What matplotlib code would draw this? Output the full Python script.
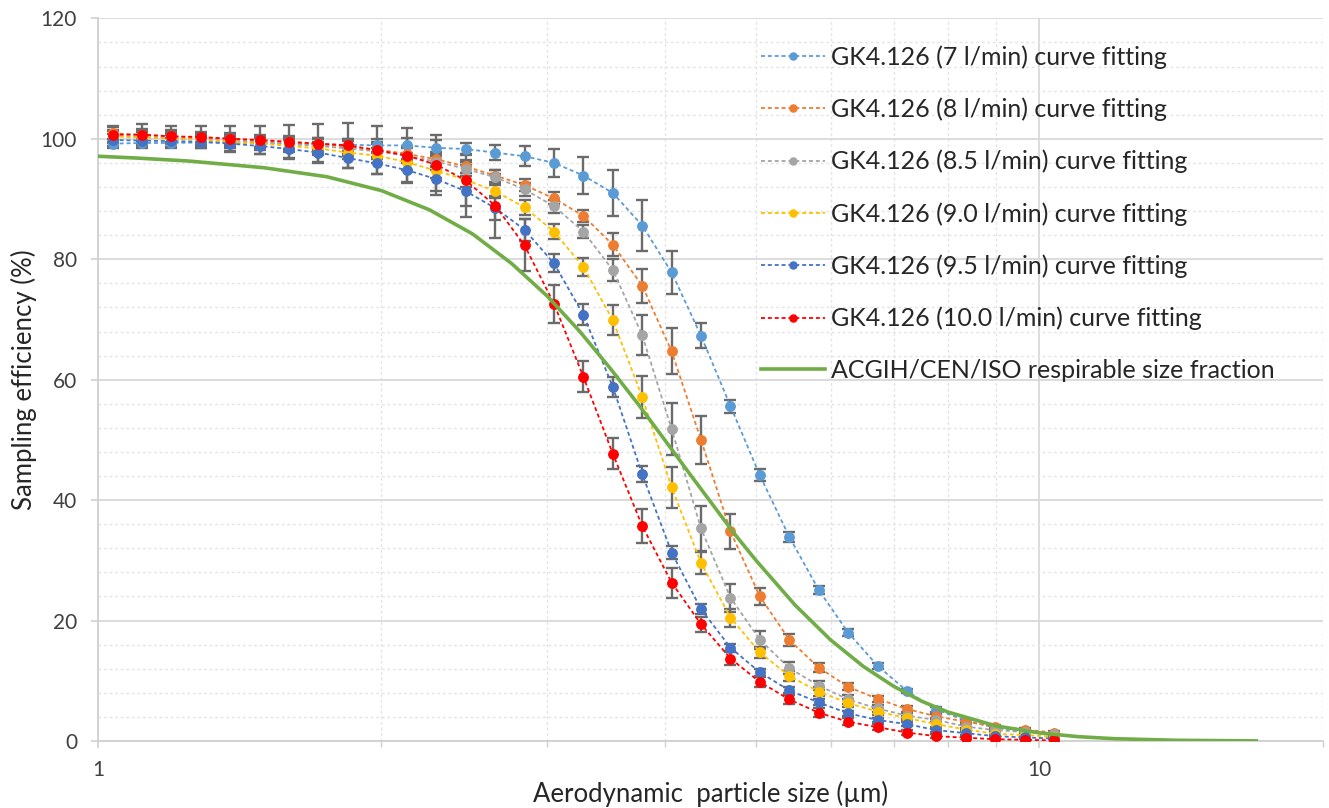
import matplotlib
matplotlib.use("Agg")
import matplotlib.pyplot as plt
from matplotlib.ticker import FixedLocator, NullFormatter, MultipleLocator

plt.rcParams['font.family'] = ['Lato', 'DejaVu Sans']

# APS channel midpoints (aerodynamic diameter, um)
size_um = [1.037, 1.114, 1.197, 1.286, 1.382, 1.486, 1.596, 1.715, 1.843, 1.981,
           2.129, 2.288, 2.458, 2.642, 2.839, 3.051, 3.278, 3.523, 3.786, 4.068,
           4.371, 4.698, 5.048, 5.425, 5.829, 6.264, 6.732, 7.234, 7.774, 8.354,
           8.977, 9.647, 10.37]

# sampling efficiency (%) per flow rate
eff_7 = [99.2, 99.3, 99.3, 99.4, 99.4, 99.3, 99.2, 99.1, 99.0, 98.9,
         98.9, 98.5, 98.3, 97.7, 97.1, 96.0, 93.9, 91.0, 85.6, 77.8,
         67.3, 55.6, 44.1, 33.9, 25.1, 18.0, 12.5, 8.3, 5.2, 3.4,
         2.2, 1.5, 1.1]
eff_8 = [100.9, 100.6, 100.4, 100.2, 100.0, 99.7, 99.4, 99.1, 98.7, 98.2,
         97.5, 96.6, 95.4, 93.9, 92.3, 90.1, 87.2, 82.4, 75.6, 64.7,
         50.0, 34.8, 24.0, 16.8, 12.2, 9.0, 7.0, 5.3, 4.1, 3.2,
         2.4, 1.9, 1.4]
eff_85 = [100.5, 100.3, 100.1, 99.9, 99.7, 99.4, 99.1, 98.8, 98.4, 97.9,
          97.2, 96.2, 95.0, 93.6, 91.6, 88.8, 84.6, 78.2, 67.4, 51.8,
          35.3, 23.8, 16.8, 12.1, 9.2, 6.9, 5.4, 4.2, 3.5, 2.4,
          1.8, 1.5, 1.2]
eff_90 = [100.4, 100.2, 100.0, 99.8, 99.5, 99.2, 98.8, 98.4, 97.7, 97.2,
          96.1, 94.7, 93.2, 91.3, 88.6, 84.6, 78.7, 69.9, 57.1, 42.1,
          29.6, 20.5, 14.7, 10.8, 8.2, 6.3, 4.9, 3.8, 2.8, 1.9,
          1.2, 1.0, 0.7]
eff_95 = [99.8, 99.7, 99.6, 99.5, 99.2, 98.8, 98.3, 97.7, 96.8, 95.9,
          94.8, 93.3, 91.3, 88.5, 84.9, 79.3, 70.8, 58.8, 44.3, 31.3,
          21.9, 15.5, 11.4, 8.4, 6.4, 4.6, 3.5, 2.8, 1.8, 1.3,
          0.8, 0.6, 0.4]
eff_100 = [100.7, 100.7, 100.4, 100.3, 100.0, 99.8, 99.5, 99.2, 98.9, 98.1,
           97.2, 95.7, 93.1, 88.9, 82.3, 72.6, 60.5, 47.7, 35.7, 26.3,
           19.4, 13.7, 9.8, 6.9, 4.7, 3.2, 2.3, 1.4, 0.8, 0.55,
           0.3, 0.2, 0.1]

# error bar half lengths
err_7 = [0.8, 0.8, 0.8, 0.8, 0.8, 0.9, 0.9, 1.0, 1.0, 1.1,
         1.2, 1.3, 1.0, 1.25, 1.7, 2.3, 3.0, 3.9, 4.2, 3.5,
         2.1, 1.1, 1.0, 0.8, 0.7, 0.6, 0.5, 0.4, 0.4, 0.3,
         0.3, 0.2, 0.2]
err_8 = [1.0, 1.0, 1.0, 1.0, 1.0, 1.0, 1.1, 1.1, 1.2, 1.2,
         1.2, 1.2, 1.0, 1.0, 1.0, 1.0, 1.0, 1.9, 2.8, 3.8,
         4.0, 2.85, 1.4, 1.0, 0.8, 0.6, 0.5, 0.5, 0.4, 0.4,
         0.3, 0.3, 0.2]
err_85 = [1.0, 1.0, 1.0, 1.0, 1.0, 1.1, 1.1, 1.2, 1.2, 1.3,
          1.3, 1.3, 1.2, 1.2, 1.1, 1.1, 1.1, 1.8, 3.3, 4.3,
          3.7, 2.35, 1.5, 1.0, 0.8, 0.7, 0.6, 0.5, 0.4, 0.4,
          0.3, 0.3, 0.2]
err_90 = [0.9, 0.9, 0.9, 0.9, 1.0, 1.0, 1.0, 1.1, 1.1, 1.2,
          1.2, 1.2, 1.2, 1.2, 1.2, 1.3, 1.5, 2.5, 3.5, 3.4,
          1.8, 1.5, 0.9, 0.8, 0.7, 0.6, 0.5, 0.4, 0.4, 0.3,
          0.3, 0.2, 0.2]
err_95 = [1.0, 1.0, 1.0, 1.0, 1.2, 1.3, 1.5, 1.6, 1.7, 1.8,
          1.9, 2.0, 4.3, 2.0, 1.8, 1.5, 1.7, 1.7, 1.3, 1.0,
          0.8, 0.6, 0.6, 0.5, 0.5, 0.4, 0.4, 0.3, 0.3, 0.3,
          0.2, 0.2, 0.2]
err_100 = [1.4, 1.75, 1.75, 1.9, 2.2, 2.4, 2.85, 3.2, 3.7, 4.0,
           4.6, 5.0, 4.3, 5.3, 4.3, 3.2, 2.6, 2.6, 2.8, 2.5,
           1.25, 1.0, 0.9, 0.8, 0.7, 0.6, 0.5, 0.4, 0.3, 0.3,
           0.2, 0.2, 0.1]

# ACGIH/CEN/ISO respirable convention
resp_x = [1.0, 1.1, 1.25, 1.5, 1.75, 2.0, 2.25, 2.5, 2.75, 3.0,
          3.25, 3.5, 3.75, 4.0, 4.25, 4.5, 4.75, 5.0, 5.5, 6.0,
          6.5, 7.0, 7.5, 8.0, 9.0, 10.0, 11.0, 12.0, 14.0, 17.0]
resp_y = [97.1, 96.8, 96.3, 95.2, 93.7, 91.4, 88.2, 84.2, 79.3, 73.9,
          68.0, 61.9, 55.9, 50.0, 44.4, 39.2, 34.3, 30.0, 22.6, 16.8,
          12.4, 9.1, 6.6, 4.8, 2.5, 1.35, 0.72, 0.39, 0.12, 0.02]

labels = ["GK4.126 (7 l/min) curve fitting",
          "GK4.126 (8 l/min) curve fitting",
          "GK4.126 (8.5 l/min) curve fitting",
          "GK4.126 (9.0 l/min) curve fitting",
          "GK4.126 (9.5 l/min) curve fitting",
          "GK4.126 (10.0 l/min) curve fitting"]
colors = ["#5B9BD5", "#ED7D31", "#A5A5A5", "#FFC000", "#4472C4", "#FF0000"]
series = [eff_7, eff_8, eff_85, eff_90, eff_95, eff_100]
errors = [err_7, err_8, err_85, err_90, err_95, err_100]

fig = plt.figure(figsize=(13.29, 8.08), dpi=100)
ax = fig.add_axes([0.0737, 0.0829, 0.9216, 0.8944])

handles = []
for i in range(len(series)):
    ax.errorbar(size_um, series[i], yerr=errors[i], fmt='none', ecolor='#6b6b6b',
                elinewidth=1.7, capsize=4.5, capthick=1.7, zorder=2 + i * 0.1)
    h, = ax.plot(size_um, series[i], color=colors[i], lw=1.3, ls=(0, (2.2, 1.6)),
                 marker='o', ms=6.8, mec=colors[i], mfc=colors[i], zorder=3 + i * 0.1,
                 label=labels[i])
    handles.append(h)

g, = ax.plot(resp_x, resp_y, color="#70AD47", lw=2.6, zorder=5,
             label="ACGIH/CEN/ISO respirable size fraction")
handles.append(g)

ax.set_xscale('log')
ax.set_xlim(1, 20)
ax.set_ylim(0, 120)

# ticks / grid like excel
ax.xaxis.set_major_locator(FixedLocator([1, 10]))
ax.xaxis.set_minor_locator(FixedLocator([2, 3, 4, 5, 6, 7, 8, 9, 20]))
ax.xaxis.set_major_formatter(plt.FixedFormatter(["1", "10"]))
ax.xaxis.set_minor_formatter(NullFormatter())
ax.yaxis.set_major_locator(MultipleLocator(20))
ax.yaxis.set_minor_locator(MultipleLocator(4))

ax.grid(which='major', color='#d9d9d9', lw=1.3, ls='-', zorder=0)
ax.grid(which='minor', color='#e4e4e4', lw=1.0, ls=(0, (2, 2)), zorder=0)
ax.set_axisbelow(True)

for s in ['top', 'right']:
    ax.spines[s].set_visible(False)
for s in ['left', 'bottom']:
    ax.spines[s].set_color('#d0d0d0')
    ax.spines[s].set_linewidth(1.3)

ax.tick_params(axis='both', which='major', colors='#d0d0d0', labelcolor='#404040',
               labelsize=15, length=5, width=1.2)
ax.tick_params(axis='x', which='minor', colors='#d0d0d0', length=4, width=1.0)
ax.tick_params(axis='y', which='minor', length=0)
ax.tick_params(axis='y', which='major', pad=10)
ax.tick_params(axis='x', which='major', pad=9)

ax.set_xlabel("Aerodynamic  particle size (\u00b5m)", fontsize=18.5, color='#262626', labelpad=0)
ax.set_ylabel("Sampling efficiency (%)", fontsize=18.5, color='#262626', labelpad=3)

leg = ax.legend(handles=handles, loc='upper left', bbox_to_anchor=(0.5226, 0.994),
                frameon=False, fontsize=18, handlelength=2.56, handletextpad=0.24,
                labelspacing=1.15, numpoints=1, markerscale=0.75)
for t in leg.get_texts():
    t.set_color('#262626')

fig.savefig("out.png", dpi=100, facecolor='white')
